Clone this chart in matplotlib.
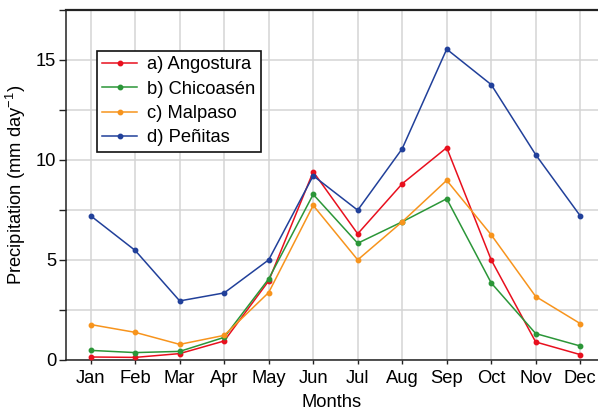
import matplotlib.pyplot as plt
import numpy as np

plt.rcParams['font.family'] = ['Liberation Sans', 'DejaVu Sans']
plt.rcParams['mathtext.fontset'] = 'custom'
plt.rcParams['mathtext.rm'] = 'Liberation Sans'
plt.rcParams['mathtext.default'] = 'regular'

months = ["Jan", "Feb", "Mar", "Apr", "May", "Jun",
          "Jul", "Aug", "Sep", "Oct", "Nov", "Dec"]

angostura = [0.15, 0.13, 0.32, 0.95, 3.95, 9.4, 6.3, 8.8, 10.6, 5.0, 0.9, 0.27]
chicoasen = [0.48, 0.37, 0.43, 1.13, 4.05, 8.27, 5.83, 6.9, 8.05, 3.85, 1.32, 0.7]
malpaso = [1.77, 1.38, 0.78, 1.23, 3.37, 7.72, 5.0, 6.9, 8.97, 6.25, 3.17, 1.82]
penitas = [7.2, 5.47, 2.95, 3.35, 5.0, 9.2, 7.48, 10.55, 15.52, 13.75, 10.25, 7.2]

series = [
    ("a) Angostura", angostura, "#e8101e"),
    ("b) Chicoasén", chicoasen, "#2b9638"),
    ("c) Malpaso", malpaso, "#f7941d"),
    ("d) Peñitas", penitas, "#21409a"),
]

fs = 13.2

fig = plt.figure(figsize=(5.98, 4.13), dpi=100)
ax = fig.add_axes([66 / 598, 53 / 413, 1 - 66 / 598, 350.5 / 413])

x = np.arange(len(months))
for label, vals, color in series:
    ax.plot(x, vals, color=color, lw=1.1, marker="o", ms=3.2, label=label, zorder=3)

ax.set_xlim(-0.555, 11.4)
ax.set_ylim(0, 17.5)
ax.set_xticks(x)
ax.set_xticklabels(months)
yt = np.arange(0, 17.6, 2.5)
ax.set_yticks(yt)
ax.set_yticklabels([f"{v:.0f}" if v % 5 == 0 else "" for v in yt])
ax.grid(True, color="#d4d4d4", lw=1.1, zorder=0)
ax.set_axisbelow(True)

for side in ["left", "bottom", "top"]:
    ax.spines[side].set_color("#222222")
    ax.spines[side].set_linewidth(1.1)
ax.spines["top"].set_linewidth(1.6)
ax.spines["right"].set_visible(False)

ax.tick_params(axis="both", labelsize=fs, color="#222222", width=1.0)
ax.tick_params(axis="y", length=5, pad=2)
ax.tick_params(axis="x", length=3, pad=4)

ax.set_xlabel("Months", fontsize=fs, labelpad=5)
ax.set_ylabel("Precipitation (mm day$^{-1}$)", fontsize=fs, labelpad=6)

leg = ax.legend(loc="upper left", bbox_to_anchor=(0.058, 0.882), borderaxespad=0,
                fontsize=fs, frameon=True, fancybox=False, framealpha=1,
                edgecolor="#111111", handlelength=1.9, handletextpad=0.55,
                labelspacing=0.4, borderpad=0.3)
leg.get_frame().set_linewidth(1.2)

fig.savefig("out.png", dpi=100)
